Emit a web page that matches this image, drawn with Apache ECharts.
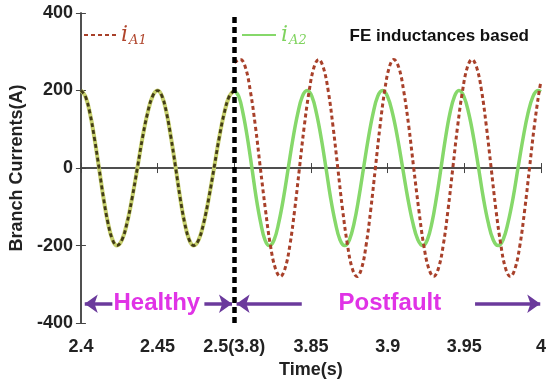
<!DOCTYPE html>
<html><head><meta charset="utf-8">
<script src="https://cdn.jsdelivr.net/npm/echarts@6/dist/echarts.min.js"></script>
<style>html,body{margin:0;padding:0;background:#fff}#c{width:550px;height:384px}</style>
</head><body><div id="c"></div>
<script>
// x axis runs 0..0.3 (plot units); labels below map each 0.05 step
const xTickLabels = ['2.4', '2.45', '2.5(3.8)', '3.85', '3.9', '3.95', '4'];
const yTicks = [-400, -200, 0, 200, 400];

// Healthy part (both branch currents identical)
const tHealthy = [0, 0.0029, 0.0059, 0.0088, 0.0118, 0.0147, 0.0176, 0.0206, 0.0235,
  0.0268, 0.0301, 0.0334, 0.0368, 0.0401, 0.0434, 0.0467, 0.05,
  0.0529, 0.0559, 0.0588, 0.0618, 0.0647, 0.0676, 0.0706, 0.0735,
  0.0768, 0.0801, 0.0834, 0.0868, 0.0901, 0.0934, 0.0967, 0.1];
const iHealthy = [200, 185, 141, 77, 0, -77, -141, -185, -200,
  -185, -141, -77, 0, 77, 141, 185, 200,
  185, 141, 77, 0, -77, -141, -185, -200,
  -185, -141, -77, 0, 77, 141, 185, 200];

// Postfault i_A2
const tA2 = [0.1, 0.1029, 0.1057, 0.1086, 0.1115, 0.1143, 0.1172, 0.12, 0.1229,
  0.126, 0.129, 0.1321, 0.1352, 0.1383, 0.1414, 0.1444, 0.1475,
  0.1506, 0.1536, 0.1567, 0.1598, 0.1628, 0.1659, 0.1689, 0.172,
  0.1751, 0.1782, 0.1812, 0.1843, 0.1874, 0.1905, 0.1935, 0.1966,
  0.1999, 0.2032, 0.2065, 0.2098, 0.2131, 0.2164, 0.2197, 0.223,
  0.2259, 0.2289, 0.2318, 0.2348, 0.2377, 0.2406, 0.2436, 0.2465,
  0.2497, 0.2529, 0.2561, 0.2593, 0.2624, 0.2656, 0.2688, 0.272,
  0.2753, 0.2785, 0.2818, 0.285, 0.2883, 0.2915, 0.2948, 0.298, 0.3];
const iA2 = [200, 185, 141, 77, 0, -77, -141, -185, -200,
  -185, -141, -77, 0, 77, 141, 185, 200,
  185, 141, 77, 0, -77, -141, -185, -200,
  -185, -141, -77, 0, 77, 141, 185, 200,
  185, 141, 77, 0, -77, -141, -185, -200,
  -185, -141, -77, 0, 77, 141, 185, 200,
  185, 141, 77, 0, -77, -141, -185, -200,
  -185, -141, -77, 0, 77, 141, 185, 200, 197];

// Postfault i_A1
const tA1 = [0.1, 0.104, 0.1073, 0.1105, 0.1138, 0.117, 0.1203, 0.1235, 0.1268, 0.13,
  0.1331, 0.1363, 0.1394, 0.1425, 0.1456, 0.1488, 0.1519, 0.155,
  0.1581, 0.1613, 0.1644, 0.1675, 0.1706, 0.1738, 0.1769, 0.18,
  0.183, 0.186, 0.189, 0.192, 0.195, 0.198, 0.201, 0.204,
  0.2073, 0.2105, 0.2138, 0.217, 0.2203, 0.2235, 0.2268, 0.23,
  0.2331, 0.2363, 0.2394, 0.2425, 0.2456, 0.2488, 0.2519, 0.255,
  0.2581, 0.2613, 0.2644, 0.2675, 0.2706, 0.2738, 0.2769, 0.28,
  0.2831, 0.2863, 0.2894, 0.2925, 0.2956, 0.2988, 0.3];
const iA1 = [272, 280, 259, 198, 107, 0, -107, -198, -259, -280,
  -259, -198, -107, 0, 107, 198, 259, 280,
  259, 198, 107, 0, -107, -198, -259, -280,
  -259, -198, -107, 0, 107, 198, 259, 280,
  259, 198, 107, 0, -107, -198, -259, -280,
  -259, -198, -107, 0, 107, 198, 259, 280,
  259, 198, 107, 0, -107, -198, -259, -280,
  -259, -198, -107, 0, 107, 198, 224];

const zip = (a, b) => a.map((v, i) => [v, b[i]]);

const chart = echarts.init(document.getElementById('c'), null, {renderer: 'canvas'});
const FONT = 'Liberation Sans, Arial, sans-serif';
const bold = {fontFamily: FONT, fontWeight: 'bold', fontSize: 18, color: '#222'};
const axisLine = {show: true, lineStyle: {color: '#444', width: 1.5}};

chart.setOption({
  animation: false,
  backgroundColor: '#fff',
  grid: {left: 77, right: 9, top: 13, bottom: 60},
  title: {text: 'FE inductances based', right: 16, top: 23,
    textStyle: {fontFamily: FONT, fontWeight: 'bold', fontSize: 17, color: '#111'}},
  legend: [
    {data: [{name: 'iA1', textStyle: {color: '#b0452c'}}], left: 78, top: 19, itemWidth: 32, itemHeight: 10,
     itemStyle: {opacity: 0}, itemGap: 4,
     formatter: () => '{i|i}{s|A1}',
     textStyle: {rich: {i: {fontFamily: 'DejaVu Serif', fontStyle: 'italic', fontSize: 22, color: '#b0452c'},
                        s: {fontFamily: 'DejaVu Serif', fontStyle: 'italic', fontSize: 13, color: '#b0452c', padding: [12, 0, 0, 1]}}}},
    {data: [{name: 'iA2', textStyle: {color: '#7fd35e'}}], left: 236, top: 19, itemWidth: 34, itemHeight: 10,
     itemStyle: {opacity: 0},
     formatter: () => '{i|i}{s|A2}',
     textStyle: {rich: {i: {fontFamily: 'DejaVu Serif', fontStyle: 'italic', fontSize: 22, color: '#7fd35e'},
                        s: {fontFamily: 'DejaVu Serif', fontStyle: 'italic', fontSize: 13, color: '#7fd35e', padding: [12, 0, 0, 1]}}}}
  ],
  xAxis: [
    {type: 'value', min: 0, max: 0.3, interval: 0.05, position: 'bottom',
     name: 'Time(s)', nameLocation: 'middle', nameGap: 37, nameTextStyle: bold,
     axisLine: axisLine, axisTick: {inside: true, length: 5, lineStyle: {color: '#444'}},
     splitLine: {show: false},
     axisLabel: Object.assign({margin: 15, showMinLabel: true, showMaxLabel: true,
        formatter: v => xTickLabels[Math.round(v / 0.05)]}, bold)},
    {type: 'value', min: 0, max: 0.3, interval: 0.05, position: 'top',
     axisLine: axisLine, axisTick: {inside: true, length: 5, lineStyle: {color: '#444'}},
     splitLine: {show: false}, axisLabel: {show: false}}
  ],
  yAxis: [
    {type: 'value', min: yTicks[0], max: yTicks[yTicks.length - 1], interval: 200, position: 'left',
     name: 'Branch Currents(A)', nameLocation: 'middle', nameGap: 53, nameTextStyle: bold,
     axisLine: axisLine, axisTick: {show: true, inside: true, length: 5, lineStyle: {color: '#444'}},
     splitLine: {show: false}, axisLabel: Object.assign({margin: 8}, bold)},
    {type: 'value', min: yTicks[0], max: yTicks[yTicks.length - 1], interval: 200, position: 'right',
     axisLine: axisLine, axisTick: {show: true, inside: true, length: 5, lineStyle: {color: '#444'}},
     splitLine: {show: false}, axisLabel: {show: false}}
  ],
  series: [
    {type: 'line', name: 'healthyBase', data: zip(tHealthy, iHealthy), smooth: 0.4, symbol: 'none', silent: true,
     lineStyle: {color: '#c6cf6c', width: 4}, z: 2},
    {type: 'line', name: 'healthyDash', data: zip(tHealthy, iHealthy), smooth: 0.4, symbol: 'none', silent: true,
     lineStyle: {color: '#433c17', width: 2.8, type: [4, 3]}, z: 3},
    {type: 'line', name: 'iA2', data: zip(tA2, iA2), smooth: 0.4, symbol: 'none', showSymbol: false,
     itemStyle: {color: '#86d86a'}, lineStyle: {color: '#86d86a', width: 3.5}, z: 2},
    {type: 'line', name: 'iA1', data: zip(tA1, iA1), smooth: 0.4, symbol: 'none', showSymbol: false,
     itemStyle: {color: '#a8402a'}, lineStyle: {color: '#a8402a', width: 3, type: [4, 3]}, z: 3},
    {type: 'line', name: 'annot', data: [], symbol: 'none', silent: true, z: 5,
     markLine: {silent: true, symbol: ['none', 'none'], animation: false,
       label: {show: false},
       lineStyle: {color: '#000', width: 4.5, type: [6, 4]},
       data: [[{coord: [0.1, -400]}, {coord: [0.1, 400]}]]},
     markPoint: {silent: true, symbol: 'rect', symbolSize: 1, itemStyle: {color: 'rgba(0,0,0,0)'},
       label: {show: true, position: 'inside', fontFamily: FONT, fontWeight: 'bold', fontSize: 24, color: '#e033e6',
               formatter: p => p.name},
       data: [{name: 'Healthy', coord: [0.0495, -350]}, {name: 'Postfault', coord: [0.2015, -350]}]}},
    {type: 'line', name: 'arrows', data: [], symbol: 'none', silent: true, z: 6,
     markLine: {silent: true, symbol: ['none', 'arrow'], symbolSize: [14, 13], animation: false,
       label: {show: false},
       lineStyle: {color: '#6b3a9c', width: 3.5, type: 'solid'},
       data: [
         [{coord: [0.0205, -350]}, {coord: [0.0025, -350]}],
         [{coord: [0.0805, -350]}, {coord: [0.0985, -350]}],
         [{coord: [0.144, -350]}, {coord: [0.1015, -350]}],
         [{coord: [0.257, -350]}, {coord: [0.2995, -350]}]
       ]}}
  ]
});
</script></body></html>
